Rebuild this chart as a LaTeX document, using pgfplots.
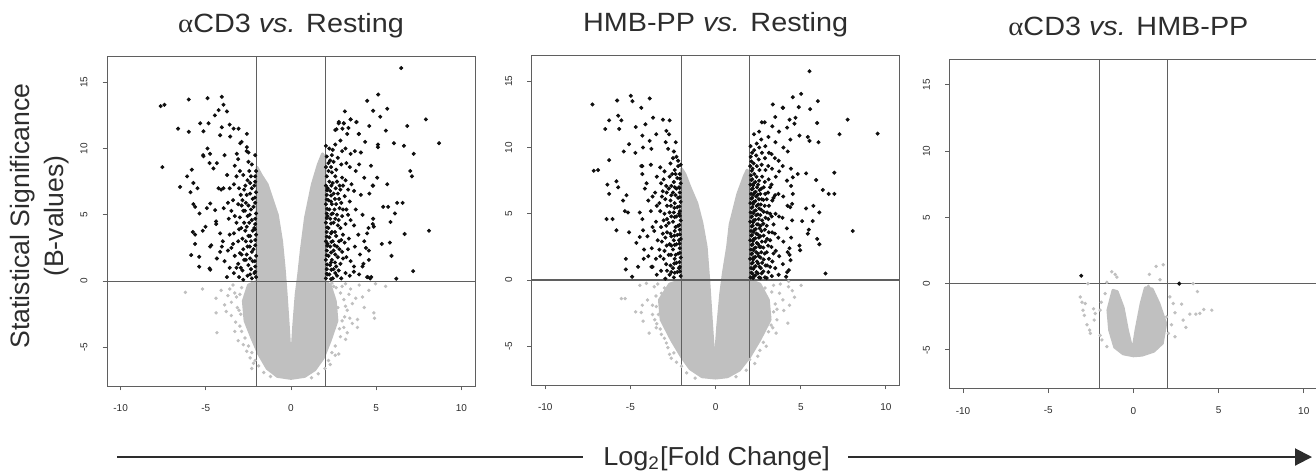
\documentclass[border=0pt]{standalone}
\usepackage{pgfplots}
\pgfplotsset{compat=1.18}
\usepackage{fontspec}
\setmainfont{Liberation Sans}
\newfontfamily\greekfont{Liberation Serif}
\usepackage{graphicx}
\usetikzlibrary{arrows.meta}

\definecolor{ptgray}{RGB}{192,192,192}
\definecolor{ptblack}{RGB}{15,15,15}
\definecolor{boxgray}{RGB}{95,95,95}
\definecolor{txtgray}{RGB}{45,45,45}

\pgfplotsset{
  volcano/.style={
    scale only axis, width=184pt, height=164.6pt,
    xmin=-10.8, xmax=10.8, ymin=-7.92, ymax=16.92,
    xtick={-10,-5,0,5,10}, ytick={-5,0,5,10,15},
    tick align=outside, tick pos=left,
    major tick length=2.2pt,
    axis line style={boxgray, line width=0.5pt},
    tick style={boxgray, line width=0.5pt},
    /pgf/number format/assume math mode=true,
    every tick label/.append style={font=\fontsize{5}{6}\selectfont, text=txtgray},
    xticklabel shift=3.5pt,
    yticklabel style={rotate=90, anchor=south},
    yticklabel shift=4pt,
    title style={at={(0.5,1)}, anchor=base, yshift=6pt, font=\fontsize{13.2}{15}\selectfont, text=txtgray},
  },
  blackpt/.style={only marks, mark=*, mark size=0.8pt, color=ptblack},
  graypt/.style={only marks, mark=*, mark size=0.65pt, color=ptgray},
  graycloud/.style={no markers, fill=ptgray, draw=ptgray, line width=1.4pt, line join=round},
  refline/.style={no markers, color=boxgray, line width=0.55pt},
}

\begin{document}
\begin{tikzpicture}
\path[use as bounding box] (0pt,0pt) rectangle (658pt,-236.5pt);

% ---------- panel 1: aCD3 vs. Resting ----------
\begin{axis}[volcano, at={(53.5pt,-193pt)}, anchor=south west,
  title={\scalebox{1.09}[1]{{\greekfont α}CD3 \textit{vs.} Resting}}]
\addplot[graycloud] coordinates {
 (-2.0,8.6) (-1.75,8.0) (-1.4,7.3) (-0.8,5.0) (-0.55,3.0) (-0.4,1.0) (-0.28,-1.0)
 (-0.15,-3.5) (0,-6.6) (0.15,-3.5) (0.3,-1.0) (0.45,0.5) (0.6,2.3) (0.85,4.8)
 (1.25,7.3) (1.6,8.8) (1.85,9.6) (2.0,9.3) (2.0,0) (2.3,-0.3) (2.6,-1.5) (2.7,-3.0)
 (2.3,-4.5) (1.9,-5.8) (1.4,-6.7) (0.8,-7.2) (0,-7.35) (-0.8,-7.2) (-1.4,-6.6)
 (-1.9,-5.5) (-2.3,-4.3) (-2.7,-3.0) (-2.8,-1.5) (-2.5,-0.3) (-2.0,0)
} -- cycle;
\addplot[graypt] coordinates {
 (-6.2,-0.85) (-5.2,-0.6) (-4.4,-1.3) (-4.4,-2.4) (-4.35,-3.9) (-3.9,-1.8) (-3.6,-0.6)
 (-3.5,-2.6) (-3.3,-3.8) (-3.1,-4.5) (-3.2,-1.2) (-3.0,-3.4) (-2.8,-4.8) (-2.6,-5.3)
 (-2.4,-5.8) (-2.2,-6.2) (-3.4,-0.3) (-3.7,-1.1) (-2.9,-0.5) (-2.3,-6.6) (-3.05,-2.2)
 (2.5,-0.4) (2.9,-0.9) (3.1,-1.4) (3.3,-2.2) (3.5,-0.6) (3.6,-1.7) (3.9,-2.9) (3.9,-3.5)
 (3.3,-3.9) (3.0,-3.0) (2.9,-4.2) (2.6,-4.9) (2.4,-5.4) (2.2,-6.0) (4.57,-0.7)
 (4.86,-2.4) (4.96,-0.2) (5.55,-0.4) (4.2,-1.2) (4.0,-0.3) (3.2,-0.2) (4.9,-2.8)
 (3.6,-3.2) (2.8,-5.5) (2.75,-2.0) (3.15,-2.7)
 (-3.3,-0.9) (-3.5,-1.6) (-3.0,-1.0) (-3.15,-2.0) (-2.95,-2.5) (-3.25,-3.1) (-2.9,-3.8)
 (-2.7,-4.3) (-2.5,-4.9) (-2.3,-5.4) (-2.1,-6.0) (-1.9,-6.4) (-1.6,-6.9) (-1.2,-7.2)
 (-3.8,-2.3) (-4.1,-0.7) (3.0,-0.4) (3.4,-1.0) (3.2,-1.9) (3.45,-2.8) (3.1,-3.5)
 (2.85,-3.6) (3.2,-4.4) (2.6,-5.6) (2.3,-6.3) (2.0,-6.6) (1.6,-7.0) (1.2,-7.3)
 (3.8,-1.3) (4.3,-2.0) (2.4,-0.15) (2.65,-0.5)
};
\addplot[blackpt] coordinates {
 (-7.65,13.2) (-7.43,13.3) (-7.55,8.6) (-6.63,11.5) (-6.51,7.1) (-6.0,11.26) (-6.0,13.7)
 (-6.1,7.9) (-5.82,8.4) (-5.9,6.7) (-5.73,5.8) (-5.76,3.7) (-5.63,2.8) (-5.86,1.96)
 (-5.39,1.08) (-5.39,1.83) (-5.33,11.9) (-5.14,11.3) (-5.16,9.5) (-5.37,5.1) (-5.18,3.8)
 (-4.9,13.8) (-4.9,10.0) (-4.84,11.9) (-4.75,9.6) (-4.78,8.9) (-4.75,2.6) (-4.78,0.95)
 (-4.55,8.5) (-4.35,8.9) (-4.47,12.5) (-4.25,12.9) (-4.06,13.9) (-3.96,13.3) (-4.16,11.0)
 (-4.06,11.6) (-3.76,12.8) (-3.6,11.8) (-3.57,10.9) (-4.25,7.0) (-4.45,5.35) (-3.96,7.0)
 (-4.4,4.5) (-4.16,3.6) (-4.06,2.6) (-4.35,1.7) (-3.76,0.3) (-3.37,11.5) (-3.08,11.5)
 (-2.98,10.4) (-2.59,11.1) (-3.18,9.6) (-2.59,10.1) (-2.49,9.7)
 (-5.73,7.4) (-5.49,7.0) (-5.63,5.6) (-4.94,5.5) (-5.02,4.1) (-5.63,3.5) (-4.74,0.85)
 (-4.68,2.7) (-4.16,2.2) (-4.39,4.3) (-4.74,5.85) (-5.14,9.42)
 (-2.05,0.3) (-2.1,1.1) (-2.05,1.9) (-2.1,2.7) (-2.05,3.5) (-2.1,4.3) (-2.05,5.1)
 (-2.1,5.9) (-2.05,6.7) (-2.1,7.5) (-2.05,8.3) (-2.1,9.5)
 (-2.3,0.2) (-2.35,0.9) (-2.25,1.5) (-2.3,2.2) (-2.35,3.0) (-2.25,3.8) (-2.3,4.6)
 (-2.35,5.4) (-2.25,6.2) (-2.3,7.0) (-2.35,7.9) (-2.3,8.8)
 (-2.55,0.4) (-2.5,1.2) (-2.6,2.0) (-2.55,2.6) (-2.5,3.4) (-2.6,4.1) (-2.55,4.9)
 (-2.5,5.7) (-2.6,6.5) (-2.55,7.6) (-2.5,9.0) (-2.6,9.8)
 (-2.8,0.1) (-2.85,0.8) (-2.75,1.6) (-2.8,2.4) (-2.85,3.2) (-2.75,4.4) (-2.8,5.3)
 (-2.85,6.1) (-2.75,6.9) (-2.8,8.0) (-2.9,10.5)
 (-3.05,0.3) (-3.1,1.3) (-3.0,2.1) (-3.1,3.0) (-3.05,3.9) (-3.0,4.8) (-3.1,5.8)
 (-3.05,7.0) (-3.0,8.3) (-3.1,9.2)
 (-3.35,0.6) (-3.3,1.9) (-3.4,2.8) (-3.35,3.6) (-3.3,4.9) (-3.4,6.1) (-3.35,7.3) (-3.3,8.7)
 (-3.6,1.0) (-3.7,2.3) (-3.6,3.5) (-3.65,4.7) (-3.7,5.9) (-3.6,7.0) (-3.75,8.0)
 (-3.9,1.5) (-4.0,3.0) (-3.95,5.5) (-4.1,6.9) (-3.9,9.5)
 (-2.15,0.6) (-2.2,2.4) (-2.15,4.0) (-2.2,5.6) (-2.15,7.2) (-2.4,1.7) (-2.45,4.4)
 (-2.4,6.6) (-2.45,8.3) (-2.65,3.0) (-2.7,5.3) (-2.95,1.0) (-2.95,6.5)
 (-2.1,0.7) (-2.12,1.5) (-2.1,3.1) (-2.12,3.9) (-2.1,4.7) (-2.12,6.3) (-2.1,7.9)
 (-2.4,0.5) (-2.42,2.6) (-2.4,3.4) (-2.42,5.0) (-2.4,7.4) (-2.65,1.6) (-2.68,3.8)
 (-2.65,5.9) (-2.68,7.2) (-2.9,2.0) (-2.92,4.0) (-2.9,5.7) (-3.2,1.0) (-3.2,4.4)
 (-3.2,7.9) (-3.5,2.5) (-3.5,5.3)
 (6.47,16.07) (5.12,14.07) (4.47,13.6) (5.65,13.0) (4.82,12.85) (3.16,12.8) (5.24,12.4)
 (3.5,12.2) (3.84,12.0) (2.81,12.0) (3.1,11.9) (2.67,11.45) (3.02,11.5) (3.37,11.55)
 (3.98,11.1) (4.59,11.7) (5.57,11.35) (6.82,11.7) (7.92,12.2) (8.69,10.4) (6.04,10.4)
 (6.63,10.2) (5.1,10.3) (5.1,10.1) (7.2,9.6) (7.0,8.3) (7.1,7.9) (5.65,7.3) (8.1,3.8)
 (6.67,3.55) (6.23,5.9) (6.55,5.9) (6.1,5.1) (5.84,4.45) (7.17,0.75) (6.18,0.18)
 (5.9,1.9) (5.8,2.9) (5.33,2.8) (5.41,5.6) (5.7,5.6) (4.86,4.1) (4.82,4.7) (4.47,3.6)
 (4.57,2.3) (4.57,1.6) (4.71,0.3) (4.47,0.3) (3.69,0.7)
 (4.8,4.3) (4.4,2.5) (4.2,1.1) (4.82,7.2) (5.06,7.8) (4.65,0.2)
 (2.05,0.2) (2.1,0.9) (2.05,1.6) (2.1,2.3) (2.05,3.0) (2.1,3.7) (2.05,4.4) (2.1,5.1)
 (2.05,5.8) (2.1,6.5) (2.05,7.2) (2.1,7.9) (2.05,8.6) (2.1,9.4) (2.05,10.2)
 (2.25,0.5) (2.3,1.2) (2.2,1.9) (2.3,2.6) (2.25,3.3) (2.2,4.0) (2.3,4.7) (2.25,5.4)
 (2.2,6.1) (2.3,6.8) (2.25,7.5) (2.2,8.3) (2.3,9.1) (2.25,10.0)
 (2.45,0.2) (2.5,0.9) (2.4,1.6) (2.5,2.3) (2.45,3.0) (2.4,3.7) (2.5,4.4) (2.45,5.1)
 (2.4,5.8) (2.5,6.6) (2.45,7.4) (2.4,8.2) (2.5,9.0) (2.45,9.9) (2.6,11.4)
 (2.7,0.4) (2.65,1.1) (2.75,1.8) (2.7,2.6) (2.65,3.4) (2.75,4.2) (2.7,5.0) (2.65,5.8)
 (2.75,6.6) (2.7,7.5) (2.65,8.4) (2.75,9.3) (2.8,11.9)
 (2.95,0.2) (2.9,1.3) (3.0,2.2) (2.95,3.1) (2.9,4.0) (3.0,4.9) (2.95,5.9) (2.9,6.9)
 (3.0,7.8) (2.95,8.8) (3.0,9.8) (3.1,11.9)
 (3.2,0.6) (3.25,1.8) (3.15,2.9) (3.2,4.3) (3.25,5.4) (3.15,6.4) (3.2,7.6) (3.25,8.9)
 (3.2,10.0) (3.3,11.1)
 (3.45,0.4) (3.5,1.5) (3.4,3.2) (3.5,4.6) (3.45,6.0) (3.55,7.3) (3.45,8.6) (3.5,9.6) (3.5,12.2)
 (3.7,1.1) (3.75,2.6) (3.7,4.2) (3.8,5.4) (3.7,6.8) (3.8,8.3) (3.75,9.8) (3.84,12.0)
 (4.0,0.5) (4.05,2.0) (3.95,3.5) (4.1,6.5) (4.0,8.8) (3.98,11.1) (4.1,9.7)
 (4.25,1.3) (4.3,3.0) (4.2,5.0) (4.3,7.8) (4.35,10.5)
 (4.5,0.3) (4.55,4.0) (4.6,6.6) (4.7,8.7) (4.8,7.2)
 (2.15,0.5) (2.15,2.8) (2.15,4.9) (2.15,7.0) (2.35,1.4) (2.35,3.6) (2.35,6.0) (2.35,8.6)
 (2.55,2.7) (2.55,5.4) (2.6,7.9) (2.85,2.4) (2.85,5.5) (2.85,7.2)
 (2.1,0.55) (2.12,1.25) (2.1,1.95) (2.12,2.65) (2.1,3.35) (2.12,4.05) (2.1,4.75)
 (2.12,5.45) (2.1,6.15) (2.12,6.85) (2.35,0.15) (2.37,0.85) (2.35,2.15) (2.37,2.95)
 (2.35,4.35) (2.37,5.05) (2.35,6.45) (2.37,7.2) (2.6,0.6) (2.58,1.4) (2.6,2.0) (2.58,3.7)
 (2.6,4.7) (2.58,6.2) (2.62,7.0) (2.8,0.8) (2.82,3.0) (2.8,4.6) (2.82,6.2) (3.05,1.7)
 (3.05,3.5) (3.05,5.4) (3.05,7.2) (3.35,2.4) (3.35,5.0) (3.35,6.9) (2.2,8.9) (2.4,9.5)
 (2.6,10.3) (2.9,10.6)
};
\addplot[refline] coordinates {(-2,-7.92) (-2,16.92)};
\addplot[refline] coordinates {(2,-7.92) (2,16.92)};
\addplot[refline] coordinates {(-10.8,0) (10.8,0)};
\end{axis}

% ---------- panel 2: HMB-PP vs. Resting ----------
\begin{axis}[volcano, at={(265.8pt,-192.5pt)}, anchor=south west,
  title={\scalebox{1.09}[1]{HMB-PP \textit{vs.} Resting}}]
\addplot[graycloud] coordinates {
 (-2.0,8.4) (-1.8,8.0) (-1.5,7.0) (-1.1,5.8) (-0.8,4.3) (-0.55,2.5) (-0.4,0)
 (-0.25,-3.0) (-0.06,-6.7) (0.12,-3.5) (0.3,-1.0) (0.45,0.5) (0.7,2.5) (0.85,4.2)
 (1.3,6.5) (1.7,7.9) (1.85,8.3) (2.0,8.0) (2.0,0) (2.6,-0.3) (3.1,-1.5) (3.2,-3.0)
 (2.6,-4.5) (2.0,-5.8) (1.4,-6.8) (0.7,-7.3) (0,-7.4) (-0.8,-7.3) (-1.5,-6.7)
 (-2.0,-5.8) (-2.6,-4.5) (-3.2,-3.0) (-3.3,-1.5) (-2.7,-0.3) (-2.0,0)
} -- cycle;
\addplot[graypt] coordinates {
 (-5.53,-1.4) (-5.31,-1.4) (-4.69,-2.4) (-4.36,-2.45) (-4.26,-3.1) (-3.9,-4.0) (-3.7,-1.9)
 (-4.45,-0.4) (-4.06,-0.25) (-3.57,-3.0) (-3.48,-3.6) (-3.18,-4.1) (-2.89,-4.75)
 (-2.7,-5.6) (-2.6,-5.9) (-3.18,-1.0) (-3.48,-2.0) (-3.6,-0.5) (-3.35,-2.6)
 (2.77,-2.4) (3.16,-2.75) (3.36,-3.6) (3.55,-4.0) (3.26,-3.4) (2.97,-5.0) (2.48,-5.75)
 (4.34,-1.9) (4.24,-3.25) (4.28,-0.1) (4.63,-1.3) (5.02,-0.4) (4.28,-0.5) (3.75,-1.0)
 (3.95,-1.5) (2.58,-4.25) (2.19,-5.25) (2.0,-6.0) (3.4,-0.4) (3.6,-2.2) (2.9,-0.6)
 (-3.5,-1.2) (-3.7,-2.6) (-3.4,-0.3) (-3.0,-0.6) (-3.45,-3.3) (-3.25,-3.7) (-3.0,-4.4)
 (-2.8,-5.1) (-2.45,-5.5) (-2.3,-6.2) (-2.0,-6.5) (-1.7,-7.0) (-1.2,-7.4) (-4.0,-1.5)
 (-4.3,-1.9) (3.3,-0.9) (3.5,-1.8) (3.4,-2.4) (3.6,-3.0) (3.1,-3.9) (2.8,-4.7)
 (2.6,-5.3) (2.3,-6.3) (1.8,-6.8) (1.2,-7.3) (4.0,-2.3) (4.5,-0.8) (3.8,-0.3)
};
\addplot[blackpt] coordinates {
 (-7.23,13.25) (-7.15,8.25) (-6.9,8.3) (-6.48,11.4) (-6.25,12.05) (-6.25,9.05) (-6.4,4.6)
 (-6.05,4.6) (-6.35,7.2) (-6.25,6.5) (-5.78,13.55) (-5.72,12.4) (-5.66,11.4) (-5.53,12.05)
 (-5.82,7.45) (-5.72,7.0) (-5.82,3.75) (-5.43,6.0) (-5.23,6.4) (-5.33,5.2) (-5.14,5.1)
 (-5.08,3.6) (-5.27,1.6) (-5.27,0.8) (-4.98,13.9) (-4.88,13.5) (-5.08,10.25) (-5.39,9.7)
 (-4.71,9.6) (-4.69,11.55) (-4.36,13.0) (-3.87,13.7) (-3.67,12.25) (-4.3,10.9)
 (-4.12,11.75) (-4.26,10.0) (-3.87,10.5) (-3.77,9.9) (-3.48,11.0) (-4.36,8.6) (-4.3,8.0)
 (-4.45,5.1) (-4.65,2.8) (-4.45,3.25) (-4.26,3.75) (-4.22,1.6) (-4.55,1.0) (-4.9,0.25)
 (-3.77,1.0) (-3.09,12.1) (-2.7,12.05) (-2.89,11.25) (-2.73,11.0) (-2.93,10.4)
 (-2.34,10.4) (-2.79,9.9)
 (-2.05,0.3) (-2.1,1.0) (-2.05,1.7) (-2.1,2.4) (-2.05,3.1) (-2.1,3.8) (-2.05,4.5)
 (-2.1,5.2) (-2.05,5.9) (-2.1,6.6) (-2.05,7.3) (-2.1,8.0) (-2.05,8.7)
 (-2.25,0.6) (-2.3,1.3) (-2.2,2.0) (-2.3,2.7) (-2.25,3.4) (-2.2,4.1) (-2.3,4.8)
 (-2.25,5.5) (-2.2,6.2) (-2.3,6.9) (-2.25,7.7) (-2.2,8.6)
 (-2.45,0.2) (-2.5,0.9) (-2.4,1.6) (-2.5,2.3) (-2.45,3.0) (-2.4,3.7) (-2.5,4.4)
 (-2.45,5.1) (-2.4,5.8) (-2.5,6.6) (-2.45,7.4) (-2.4,8.3) (-2.5,9.2) (-2.45,9.7)
 (-2.7,0.4) (-2.65,1.1) (-2.75,1.9) (-2.7,2.7) (-2.65,3.5) (-2.75,4.3) (-2.7,5.1)
 (-2.65,6.0) (-2.75,6.9) (-2.7,7.8) (-2.65,8.8)
 (-2.95,0.1) (-2.9,1.2) (-3.0,2.2) (-2.95,3.2) (-2.9,4.1) (-3.0,5.0) (-2.95,6.1)
 (-2.9,7.1) (-3.0,8.2)
 (-3.2,0.7) (-3.25,1.8) (-3.15,2.9) (-3.2,4.0) (-3.25,5.2) (-3.15,6.3) (-3.2,7.3) (-3.25,8.5)
 (-3.45,0.4) (-3.5,1.6) (-3.4,3.0) (-3.5,4.4) (-3.45,5.6) (-3.55,6.6) (-3.45,7.8)
 (-3.7,1.0) (-3.75,2.4) (-3.7,4.0) (-3.8,5.2) (-3.7,6.3) (-3.8,8.7)
 (-3.95,1.8) (-4.0,3.3) (-3.95,6.0) (-4.05,7.3)
 (-4.2,2.3) (-4.3,4.6) (-4.15,6.9) (-4.3,8.6)
 (-2.15,0.9) (-2.15,3.0) (-2.15,5.0) (-2.15,7.0) (-2.35,1.9) (-2.35,4.0) (-2.35,6.4)
 (-2.35,8.0) (-2.6,2.6) (-2.6,4.8) (-2.6,7.1) (-2.85,3.6) (-2.85,5.6) (-3.1,3.5) (-3.1,6.7)
 (-2.1,0.65) (-2.12,1.35) (-2.1,2.05) (-2.12,2.75) (-2.1,3.45) (-2.12,4.15) (-2.1,4.85)
 (-2.12,5.55) (-2.1,6.25) (-2.12,6.95) (-2.1,7.65) (-2.4,0.55) (-2.42,1.25) (-2.4,2.65)
 (-2.42,3.35) (-2.4,4.75) (-2.42,5.45) (-2.4,7.0) (-2.6,0.6) (-2.62,1.9) (-2.6,3.3)
 (-2.62,5.6) (-2.6,6.4) (-2.85,0.7) (-2.87,2.6) (-2.85,4.6) (-2.87,6.6) (-3.05,1.6)
 (-3.05,4.5) (-3.05,7.6) (-3.3,2.3) (-3.3,5.8) (-3.6,3.7) (-2.3,9.3) (-2.55,8.0) (-2.2,9.0)
 (5.51,15.75) (5.02,14.05) (4.53,13.8) (6.0,13.5) (4.88,13.05) (5.55,12.9) (3.36,13.25)
 (3.95,13.0) (7.75,12.1) (5.96,11.85) (4.63,11.8) (4.69,12.25) (4.34,12.1) (7.27,11.0)
 (9.51,11.05) (4.92,10.9) (5.41,10.8) (5.51,10.5) (6.04,10.4) (6.97,8.1) (5.31,8.05)
 (5.9,7.55) (6.29,6.8) (6.64,6.5) (6.97,6.5) (8.05,3.7) (5.74,5.6) (5.31,5.4) (6.09,5.1)
 (5.7,4.45) (5.08,4.45) (5.47,3.8) (5.41,3.5) (5.96,3.1) (6.09,2.7) (6.45,0.5) (4.92,2.6)
 (4.96,2.25) (4.82,8.0) (4.53,7.75) (4.43,7.1) (4.53,6.5) (4.49,5.75) (4.49,4.5)
 (4.34,2.4) (4.34,1.9) (4.3,0.75) (4.14,0.25)
 (2.05,0.2) (2.08,0.9) (2.03,1.6) (2.07,2.3) (2.04,3.0) (2.08,3.7) (2.03,4.4) (2.06,5.1)
 (2.04,5.8) (2.08,6.5) (2.05,7.2) (2.07,7.9) (2.03,8.6) (2.06,9.3) (2.05,10.1)
 (2.15,0.5) (2.18,1.3) (2.13,2.0) (2.17,2.7) (2.14,3.4) (2.18,4.1) (2.13,4.8) (2.16,5.5)
 (2.14,6.2) (2.18,6.9) (2.15,7.6) (2.17,8.4) (2.14,9.6)
 (2.25,0.3) (2.28,1.0) (2.23,1.7) (2.27,2.4) (2.24,3.1) (2.28,3.8) (2.23,4.5) (2.26,5.2)
 (2.24,5.9) (2.28,6.6) (2.25,7.3) (2.27,8.0) (2.23,8.8) (2.26,9.8) (2.25,11.0)
 (2.4,0.6) (2.43,1.4) (2.38,2.1) (2.42,2.8) (2.39,3.5) (2.43,4.2) (2.38,4.9) (2.41,5.6)
 (2.39,6.3) (2.43,7.0) (2.4,7.8) (2.42,8.6) (2.38,9.4) (2.41,10.3)
 (2.55,0.2) (2.58,1.0) (2.53,1.8) (2.57,2.5) (2.54,3.2) (2.58,3.9) (2.53,4.6) (2.56,5.4)
 (2.54,6.1) (2.58,6.8) (2.55,7.5) (2.57,8.3) (2.53,9.1) (2.56,10.0) (2.55,11.2)
 (2.7,0.5) (2.73,1.3) (2.68,2.1) (2.72,2.9) (2.69,3.7) (2.73,4.5) (2.68,5.3) (2.71,6.1)
 (2.69,6.9) (2.73,7.8) (2.7,8.7) (2.72,9.6) (2.68,10.6) (2.71,11.9)
 (2.9,0.2) (2.93,1.1) (2.88,2.0) (2.92,2.9) (2.89,3.8) (2.93,4.7) (2.88,5.6) (2.91,6.5)
 (2.89,7.4) (2.93,8.3) (2.9,9.2) (2.92,10.1) (2.88,11.9)
 (3.1,0.6) (3.13,1.6) (3.08,2.6) (3.12,3.6) (3.09,4.6) (3.13,5.6) (3.08,6.6) (3.11,7.6)
 (3.09,8.6) (3.13,9.6) (3.1,10.8)
 (3.3,0.3) (3.33,1.4) (3.28,2.5) (3.32,3.6) (3.29,4.8) (3.33,6.0) (3.28,7.2) (3.31,8.4)
 (3.29,9.5) (3.33,11.6)
 (3.5,0.9) (3.53,2.2) (3.48,3.5) (3.52,5.0) (3.49,6.4) (3.53,7.8) (3.48,9.2) (3.51,10.4) (3.5,12.3)
 (3.7,0.4) (3.73,1.8) (3.68,3.2) (3.72,4.8) (3.69,6.5) (3.73,8.2) (3.7,9.0) (3.72,11.2)
 (3.95,1.2) (3.98,2.9) (3.93,4.7) (3.97,6.3) (3.94,8.6) (3.98,10.0) (3.95,13.0)
 (4.2,0.6) (4.23,2.1) (4.18,3.9) (4.22,5.6) (4.19,7.5) (4.23,9.7) (4.2,11.5)
 (4.4,1.5) (4.43,3.2) (4.38,5.5) (4.42,8.4) (4.39,10.6)
 (2.1,0.55) (2.12,1.25) (2.1,1.95) (2.12,2.65) (2.1,3.35) (2.12,4.05) (2.1,4.75)
 (2.12,5.45) (2.1,6.15) (2.12,6.85) (2.1,7.55) (2.12,8.25) (2.1,8.95) (2.2,0.15)
 (2.22,0.85) (2.2,1.55) (2.22,2.25) (2.2,2.95) (2.22,3.65) (2.2,4.35) (2.22,5.05)
 (2.2,5.75) (2.22,6.45) (2.2,7.15) (2.33,0.35) (2.35,1.05) (2.33,1.75) (2.35,2.45)
 (2.33,3.15) (2.35,3.85) (2.33,4.55) (2.35,5.25) (2.33,5.95) (2.35,6.65) (2.33,7.4)
 (2.48,0.5) (2.5,1.25) (2.48,2.0) (2.5,2.7) (2.48,3.45) (2.5,4.2) (2.48,4.95) (2.5,5.7)
 (2.48,6.45) (2.5,7.2) (2.63,0.15) (2.65,0.9) (2.63,1.7) (2.65,2.5) (2.63,3.3) (2.65,4.1)
 (2.63,4.9) (2.65,5.7) (2.63,6.5) (2.8,0.65) (2.82,1.55) (2.8,2.45) (2.82,3.35) (2.8,4.25)
 (2.82,5.15) (2.8,6.05) (2.82,7.0) (3.0,0.15) (3.02,1.1) (3.0,2.1) (3.02,3.1) (3.0,4.1)
 (3.02,5.1) (3.0,6.1) (3.2,1.0) (3.2,3.0) (3.2,5.0) (3.2,7.0) (3.4,2.0) (3.4,4.2) (3.4,6.2)
};
\addplot[refline] coordinates {(-2,-7.92) (-2,16.92)};
\addplot[refline] coordinates {(2,-7.92) (2,16.92)};
\addplot[refline] coordinates {(-10.8,0) (10.8,0)};
\end{axis}

% ---------- panel 3: aCD3 vs. HMB-PP ----------
\begin{axis}[volcano, at={(474.7pt,-194.3pt)}, anchor=south west,
  title style={xshift=-2.5pt},
  title={\scalebox{1.09}[1]{{\greekfont α}CD3 \textit{vs.} HMB-PP}}]
\addplot[graycloud] coordinates {
 (-1.2,-0.5) (-0.95,-0.6) (-0.6,-1.8) (-0.35,-3.5) (-0.05,-5.1) (0.15,-3.5) (0.45,-1.5)
 (0.7,-0.3) (1.1,-0.4) (1.5,-1.5) (1.9,-3.0) (1.7,-4.5) (1.2,-5.1) (0.5,-5.4) (0,-5.45)
 (-0.6,-5.3) (-1.1,-4.8) (-1.4,-3.5) (-1.5,-2.0)
} -- cycle;
\addplot[graypt] coordinates {
 (-3.12,-1.0) (-3.02,-1.4) (-2.83,-1.5) (-2.96,-2.0) (-2.88,-2.4) (-2.34,-1.9)
 (-2.24,-2.25) (-2.73,-3.1) (-2.57,-3.5) (-2.53,-3.75) (-2.3,-2.75) (-1.95,-2.0)
 (-1.95,-3.9) (-1.85,-4.25) (-1.66,-0.75) (-1.56,0.1) (-1.27,0.9) (-1.07,0.7) (-0.97,0.5)
 (-1.89,-1.4) (-2.67,0) (0.94,0.7) (1.33,1.3) (1.75,1.43) (1.56,0.3) (0.88,-0.2)
 (2.14,-1.0) (2.34,-1.5) (2.83,-1.55) (2.44,-2.2) (2.92,-2.75) (3.31,-2.3) (3.51,0)
 (3.76,-0.6) (3.66,-2.3) (3.9,-2.25) (4.13,-1.95) (4.6,-2.0) (3.08,-3.3) (2.44,-4.0)
 (2.24,-3.1) (2.05,-3.75) (1.95,-2.5) (1.75,-3.0) (1.27,-4.6) (-1.56,-4.75)
};
\addplot[blackpt] coordinates {(-3.06,0.6) (2.69,0.0)};
\addplot[refline] coordinates {(-2,-7.92) (-2,16.92)};
\addplot[refline] coordinates {(2,-7.92) (2,16.92)};
\addplot[refline] coordinates {(-10.8,0) (10.8,0)};
\end{axis}

% ---------- shared labels ----------
\node[rotate=90, align=center, text=txtgray, font=\fontsize{13.3}{17}\selectfont]
  at (20pt,-108pt) {Statistical Significance\\(B-values)};
\node[anchor=base, text=txtgray, font=\fontsize{13}{15}\selectfont]
  at (358.3pt,-232.5pt) {\scalebox{1.04}[1]{Log\textsubscript{2}[Fold Change]}};
\draw[txtgray, line width=1pt] (58.5pt,-228.5pt) -- (291.5pt,-228.5pt);
\draw[txtgray, line width=1pt, -{Triangle[length=8.5pt,width=8.5pt]}]
  (424pt,-228.5pt) -- (656pt,-228.5pt);
\end{tikzpicture}
\end{document}
